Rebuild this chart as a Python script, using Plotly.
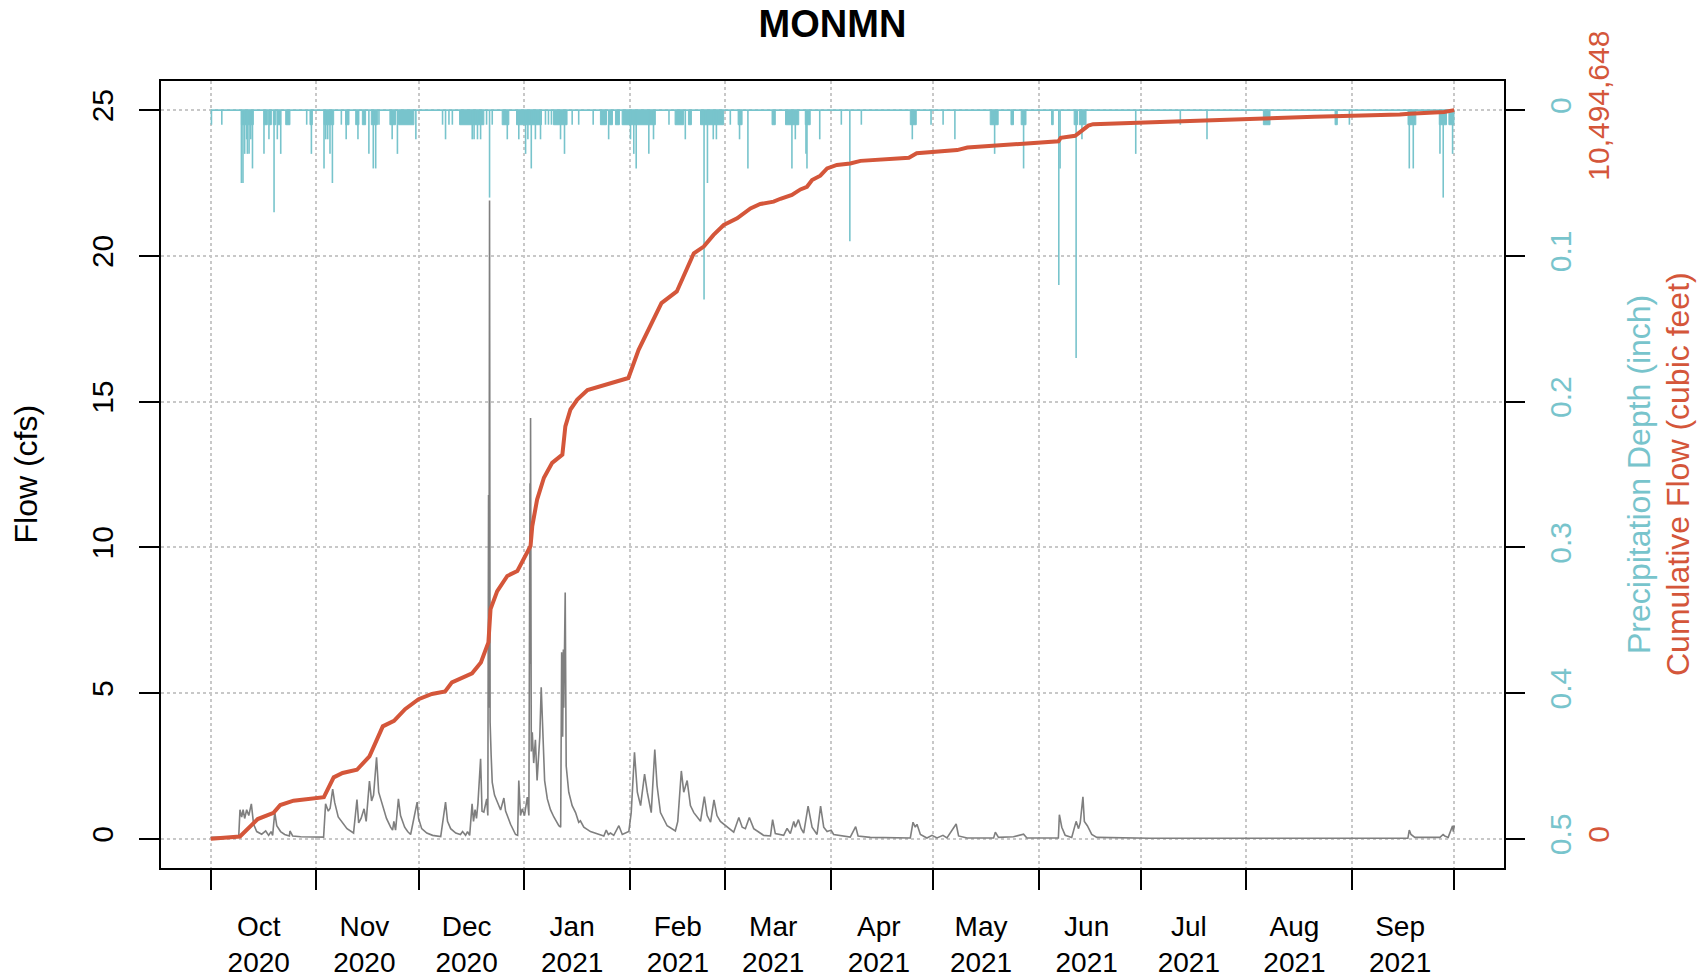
import plotly.graph_objects as go
import pandas as pd

# ---------------- data ----------------
flow_time = [
 "2020-10-01 00:00","2020-10-09 05:00","2020-10-09 14:00","2020-10-10 02:00","2020-10-10 12:00","2020-10-10 23:00",
 "2020-10-11 13:00","2020-10-12 04:00","2020-10-12 22:00","2020-10-13 14:00","2020-10-14 12:00","2020-10-15 23:00",
 "2020-10-17 03:00","2020-10-18 00:00","2020-10-18 17:00","2020-10-19 04:00","2020-10-19 19:00","2020-10-20 09:00",
 "2020-10-21 12:00","2020-10-22 17:00","2020-10-24 02:00","2020-10-24 06:00","2020-10-25 01:00","2020-10-27 10:00",
 "2020-11-03 03:00","2020-11-03 17:00","2020-11-04 12:00","2020-11-05 01:00","2020-11-05 19:00","2020-11-06 09:00",
 "2020-11-07 10:00","2020-11-08 17:00","2020-11-10 00:00","2020-11-11 22:00","2020-11-12 22:00","2020-11-13 10:00",
 "2020-11-14 03:00","2020-11-15 00:00","2020-11-15 15:00","2020-11-16 14:00","2020-11-17 05:00","2020-11-17 19:00",
 "2020-11-18 16:00","2020-11-19 07:00","2020-11-20 11:00","2020-11-21 14:00","2020-11-22 19:00","2020-11-23 09:00",
 "2020-11-23 18:00","2020-11-24 06:00","2020-11-25 02:00","2020-11-25 17:00","2020-11-26 22:00","2020-11-27 19:00",
 "2020-11-28 16:00","2020-11-30 14:00","2020-12-01 00:00","2020-12-01 22:00","2020-12-03 10:00","2020-12-05 03:00",
 "2020-12-07 12:00","2020-12-08 22:00","2020-12-09 12:00","2020-12-10 10:00","2020-12-11 22:00","2020-12-13 07:00",
 "2020-12-13 22:00","2020-12-14 19:00","2020-12-15 09:00","2020-12-16 00:00","2020-12-16 17:00","2020-12-17 03:00",
 "2020-12-17 14:00","2020-12-18 00:00","2020-12-18 10:00","2020-12-19 05:00","2020-12-19 15:00","2020-12-20 04:00",
 "2020-12-21 00:00","2020-12-21 08:00","2020-12-21 13:00","2020-12-21 16:00","2020-12-21 20:00","2020-12-22 00:00",
 "2020-12-22 07:00","2020-12-22 15:00","2020-12-23 07:00","2020-12-24 02:00","2020-12-25 02:00","2020-12-26 01:00",
 "2020-12-26 13:00","2020-12-27 01:00","2020-12-28 00:00","2020-12-29 11:00","2020-12-30 02:00","2020-12-30 10:00",
 "2020-12-30 22:00","2020-12-31 10:00","2021-01-01 02:00","2021-01-01 22:00","2021-01-02 09:00","2021-01-02 17:00",
 "2021-01-02 19:00","2021-01-02 21:00","2021-01-03 02:00","2021-01-03 09:00","2021-01-03 19:00","2021-01-04 07:00",
 "2021-01-04 19:00","2021-01-05 07:00","2021-01-05 14:00","2021-01-06 00:00","2021-01-06 14:00","2021-01-07 00:00",
 "2021-01-07 19:00","2021-01-08 17:00","2021-01-09 17:00","2021-01-11 04:00","2021-01-11 17:00","2021-01-12 00:00",
 "2021-01-12 07:00","2021-01-12 12:00","2021-01-12 15:00","2021-01-13 01:00","2021-01-13 08:00","2021-01-13 14:00",
 "2021-01-14 02:00","2021-01-15 02:00","2021-01-16 02:00","2021-01-17 00:00","2021-01-17 12:00","2021-01-18 12:00",
 "2021-01-20 11:00","2021-01-24 09:00","2021-01-25 02:00","2021-01-25 17:00","2021-01-26 08:00","2021-01-27 07:00",
 "2021-01-28 19:00","2021-01-29 19:00","2021-01-31 17:00","2021-02-01 10:00","2021-02-01 19:00","2021-02-02 09:00",
 "2021-02-03 05:00","2021-02-04 04:00","2021-02-05 08:00","2021-02-06 03:00","2021-02-07 07:00","2021-02-08 08:00",
 "2021-02-09 00:00","2021-02-10 00:00","2021-02-11 23:00","2021-02-14 09:00","2021-02-15 02:00","2021-02-16 03:00",
 "2021-02-16 20:00","2021-02-17 20:00","2021-02-18 19:00","2021-02-19 19:00","2021-02-21 18:00","2021-02-22 21:00",
 "2021-02-23 17:00","2021-02-24 17:00","2021-02-25 17:00","2021-02-26 14:00","2021-02-27 14:00","2021-03-01 14:00",
 "2021-03-03 12:00","2021-03-05 00:00","2021-03-06 00:00","2021-03-06 22:00","2021-03-08 02:00","2021-03-09 09:00",
 "2021-03-12 07:00","2021-03-14 07:00","2021-03-14 22:00","2021-03-15 17:00","2021-03-18 04:00","2021-03-19 04:00",
 "2021-03-20 03:00","2021-03-21 03:00","2021-03-21 14:00","2021-03-22 12:00","2021-03-23 07:00","2021-03-24 01:00",
 "2021-03-25 08:00","2021-03-26 12:00","2021-03-27 23:00","2021-03-29 00:00","2021-03-29 22:00","2021-03-30 22:00",
 "2021-04-01 02:00","2021-04-01 20:00","2021-04-04 19:00","2021-04-06 17:00","2021-04-08 07:00","2021-04-09 00:00",
 "2021-04-12 14:00","2021-04-18 12:00","2021-04-24 08:00","2021-04-25 03:00","2021-04-25 19:00","2021-04-26 07:00",
 "2021-04-27 07:00","2021-04-29 05:00","2021-04-30 17:00","2021-05-02 04:00","2021-05-03 22:00","2021-05-05 02:00",
 "2021-05-07 19:00","2021-05-08 12:00","2021-05-11 00:00","2021-05-18 19:00","2021-05-19 07:00","2021-05-20 05:00",
 "2021-05-24 15:00","2021-05-27 14:00","2021-05-28 13:00","2021-06-06 19:00","2021-06-07 02:00","2021-06-07 19:00",
 "2021-06-08 19:00","2021-06-10 17:00","2021-06-12 00:00","2021-06-12 17:00","2021-06-13 05:00","2021-06-14 00:00",
 "2021-06-14 10:00","2021-06-15 07:00","2021-06-16 14:00","2021-06-18 02:00","2021-07-03 17:00","2021-08-16 17:00",
 "2021-09-17 09:00","2021-09-17 19:00","2021-09-18 07:00","2021-09-19 10:00","2021-09-26 19:00","2021-09-27 17:00",
 "2021-09-28 05:00","2021-09-29 05:00","2021-09-30 12:00","2021-09-30 17:00","2021-09-30 23:45",
]
flow_cfs = [
 0.05,0.06,1.0,0.75,1.0,0.7,
 1.0,0.8,1.2,0.5,0.25,0.16,
 0.27,0.12,0.25,0.12,0.91,0.45,
 0.25,0.15,0.1,0.27,0.1,0.07,
 0.06,1.2,0.95,1.05,1.71,1.25,
 0.75,0.55,0.35,0.2,1.35,0.55,
 0.7,1.03,0.6,1.98,1.3,1.5,
 2.8,1.6,1.1,0.7,0.4,0.3,
 0.6,0.3,1.37,0.8,0.4,0.25,
 0.15,1.26,0.7,0.35,0.2,0.12,
 0.08,1.26,0.6,0.35,0.2,0.15,
 0.25,0.12,0.25,0.12,1.2,0.6,
 1.0,0.7,1.2,2.75,0.95,0.92,
 1.37,0.8,11.8,4.5,21.9,4.0,
 2.9,1.94,1.5,1.26,0.99,1.4,
 0.95,0.8,0.5,0.15,0.12,2.0,
 0.8,1.03,0.8,1.43,0.8,12.2,
 6.0,14.44,3.0,3.66,2.6,3.4,
 2.0,2.8,3.5,5.2,2.9,2.0,
 1.37,1.0,0.75,0.45,0.4,6.4,
 3.5,6.5,4.5,8.45,2.5,2.2,
 1.6,1.14,0.9,0.57,0.62,0.4,
 0.25,0.1,0.3,0.15,0.2,0.12,
 0.45,0.15,0.25,0.9,1.7,2.97,
 1.6,1.14,2.22,1.6,0.9,3.06,
 1.83,0.9,0.45,0.27,0.6,2.33,
 1.6,2.0,1.14,0.9,0.6,1.45,
 0.8,0.57,1.34,0.8,0.6,0.4,
 0.23,0.73,0.4,0.35,0.73,0.35,
 0.12,0.1,0.66,0.18,0.12,0.36,
 0.18,0.6,0.4,0.66,0.35,0.2,
 1.12,0.4,0.15,1.12,0.4,0.25,
 0.3,0.15,0.1,0.06,0.42,0.1,
 0.05,0.04,0.03,0.57,0.4,0.5,
 0.15,0.03,0.12,0.03,0.12,0.03,
 0.51,0.1,0.03,0.03,0.23,0.05,
 0.07,0.16,0.03,0.03,0.83,0.4,
 0.12,0.05,0.6,0.35,0.55,1.44,
 0.6,0.45,0.15,0.05,0.02,0.02,
 0.02,0.3,0.15,0.05,0.05,0.15,
 0.1,0.05,0.45,0.25,0.45,
]

cum_time = [
 "2020-10-01 00:00","2020-10-09 14:00","2020-10-14 19:00","2020-10-19 10:00","2020-10-21 10:00","2020-10-25 07:00",
 "2020-11-03 05:00","2020-11-06 02:00","2020-11-08 17:00","2020-11-12 22:00","2020-11-16 14:00","2020-11-20 12:00",
 "2020-11-23 19:00","2020-11-27 01:00","2020-12-01 00:00","2020-12-04 22:00","2020-12-08 19:00","2020-12-10 19:00",
 "2020-12-16 17:00","2020-12-19 07:00","2020-12-21 12:00","2020-12-21 20:00","2020-12-22 03:00","2020-12-24 02:00",
 "2020-12-27 01:00","2020-12-30 00:00","2021-01-01 10:00","2021-01-02 21:00","2021-01-03 09:00","2021-01-04 19:00",
 "2021-01-06 19:00","2021-01-09 05:00","2021-01-12 05:00","2021-01-13 02:00","2021-01-14 14:00","2021-01-16 14:00",
 "2021-01-19 14:00","2021-01-23 10:00","2021-01-31 14:00","2021-02-03 14:00","2021-02-07 10:00","2021-02-10 07:00",
 "2021-02-14 19:00","2021-02-17 07:00","2021-02-19 19:00","2021-02-22 17:00","2021-02-25 14:00","2021-02-28 14:00",
 "2021-03-04 12:00","2021-03-08 10:00","2021-03-11 07:00","2021-03-15 05:00","2021-03-17 05:00","2021-03-20 14:00",
 "2021-03-23 02:00","2021-03-25 00:00","2021-03-26 12:00","2021-03-28 22:00","2021-03-30 22:00","2021-04-02 19:00",
 "2021-04-06 17:00","2021-04-09 17:00","2021-04-22 22:00","2021-04-23 22:00","2021-04-26 05:00","2021-05-08 02:00",
 "2021-05-11 02:00","2021-05-23 02:00","2021-06-06 19:00","2021-06-07 12:00","2021-06-11 17:00","2021-06-13 17:00",
 "2021-06-15 14:00","2021-06-17 00:00","2021-06-29 07:00","2021-07-21 22:00","2021-08-06 22:00","2021-08-20 22:00",
 "2021-09-15 00:00","2021-09-17 19:00","2021-09-28 00:00","2021-09-30 23:45",
]
cum_ft3 = [
 0, 33583, 285454, 373609, 486952, 549920,
 600294, 885748, 948716, 994893, 1187994, 1620374,
 1700133, 1868047, 2010775, 2086336, 2124117, 2254250,
 2384384, 2539705, 2829357, 3114812, 3307913, 3568180,
 3786469, 3857832, 4071923, 4218848, 4504303, 4886308,
 5201148, 5415238, 5532778, 5939970, 6183446, 6326174,
 6464703, 6515077, 6636815, 7044007, 7426013, 7715665,
 7883579, 8143846, 8433499, 8530050, 8697964, 8840691,
 8937241, 9079969, 9142937, 9176520, 9218498, 9273070,
 9352830, 9390611, 9487161, 9550129, 9655076, 9705450,
 9726439, 9764220, 9802001, 9810397, 9873364, 9919541,
 9957322, 9999300, 10045477, 10095851, 10125236, 10200797,
 10272161, 10293150, 10314140, 10351921, 10372910, 10398097,
 10431680, 10444274, 10469461, 10494648,
]

# sustained tipping-bucket readings (start, end, depth in inch)
run_start = [
 "2020-10-10 00:00","2020-10-16 15:00","2020-10-18 02:00","2020-10-19 09:00","2020-10-20 13:00","2020-10-23 00:00",
 "2020-10-30 03:00","2020-11-03 06:00","2020-11-09 14:00","2020-11-12 13:00","2020-11-14 12:00","2020-11-17 03:00",
 "2020-11-22 14:00","2020-11-25 03:00","2020-12-13 01:00","2020-12-25 13:00","2020-12-29 18:00","2021-01-09 14:00",
 "2021-01-23 09:00","2021-01-26 01:00","2021-01-27 19:00","2021-01-29 18:00","2021-02-14 07:00","2021-02-18 05:00",
 "2021-02-21 18:00","2021-03-04 19:00","2021-03-14 18:00","2021-03-18 17:00","2021-03-24 12:00","2021-04-24 08:00",
 "2021-05-17 19:00","2021-05-23 21:00","2021-05-26 21:00","2021-06-04 19:00","2021-06-11 10:00","2021-06-12 23:00",
 "2021-08-05 23:00","2021-08-27 00:00","2021-09-17 10:00","2021-09-26 14:00","2021-09-29 10:00",
]
run_end = [
 "2020-10-13 12:00","2020-10-17 15:00","2020-10-18 19:00","2020-10-20 02:00","2020-10-21 13:00","2020-10-24 06:00",
 "2020-10-30 20:00","2020-11-06 02:00","2020-11-10 14:00","2020-11-13 12:00","2020-11-15 11:00","2020-11-18 22:00",
 "2020-11-24 06:00","2020-11-29 15:00","2020-12-20 04:00","2020-12-27 12:00","2021-01-06 02:00","2021-01-13 14:00",
 "2021-01-25 04:00","2021-01-26 22:00","2021-01-28 23:00","2021-02-08 12:00","2021-02-16 19:00","2021-02-19 02:00",
 "2021-02-28 13:00","2021-03-05 23:00","2021-03-15 17:00","2021-03-22 14:00","2021-03-25 23:00","2021-04-26 02:00",
 "2021-05-20 03:00","2021-05-24 15:00","2021-05-28 07:00","2021-06-05 07:00","2021-06-12 10:00","2021-06-14 22:00",
 "2021-08-07 22:00","2021-08-27 16:00","2021-09-19 17:00","2021-09-28 17:00","2021-09-30 22:00",
]
run_depth = [0.01] * 41

# individual larger readings (time, depth in inch)
precip_time = [
 "2020-10-01 05:00","2020-10-04 06:00","2020-10-10 00:00","2020-10-10 11:00","2020-10-10 23:00","2020-10-11 13:00",
 "2020-10-11 18:00","2020-10-12 06:00","2020-10-12 18:00","2020-10-13 06:00","2020-10-16 15:00","2020-10-18 02:00",
 "2020-10-19 14:00","2020-10-20 13:00","2020-10-21 13:00","2020-10-29 04:00","2020-10-30 13:00","2020-11-03 06:00",
 "2020-11-03 18:00","2020-11-04 08:00","2020-11-05 00:00","2020-11-05 17:00","2020-11-08 08:00","2020-11-09 18:00",
 "2020-11-13 05:00","2020-11-16 10:00","2020-11-17 17:00","2020-11-18 10:00","2020-11-19 09:00","2020-11-23 06:00",
 "2020-11-24 19:00","2020-11-30 05:00","2020-12-08 01:00","2020-12-08 22:00","2020-12-09 22:00","2020-12-10 22:00",
 "2020-12-16 18:00","2020-12-17 07:00","2020-12-18 07:00","2020-12-19 05:00","2020-12-20 23:00","2020-12-21 20:00",
 "2020-12-22 15:00","2020-12-27 01:00","2020-12-30 10:00","2021-01-01 10:00","2021-01-02 02:00","2021-01-03 02:00",
 "2021-01-04 07:00","2021-01-05 19:00","2021-01-07 06:00","2021-01-08 03:00","2021-01-09 00:00","2021-01-11 16:00",
 "2021-01-12 20:00","2021-01-15 02:00","2021-01-17 00:00","2021-01-21 06:00","2021-01-25 19:00","2021-02-01 05:00",
 "2021-02-02 04:00","2021-02-02 21:00","2021-02-06 14:00","2021-02-07 23:00","2021-02-12 12:00","2021-02-17 07:00",
 "2021-02-22 19:00","2021-02-23 19:00","2021-02-25 12:00","2021-02-26 10:00","2021-03-02 12:00","2021-03-05 05:00",
 "2021-03-07 16:00","2021-03-20 14:00","2021-03-21 14:00","2021-03-24 17:00","2021-03-25 00:00","2021-03-28 18:00",
 "2021-04-04 02:00","2021-04-06 14:00","2021-04-09 23:00","2021-04-24 22:00","2021-04-30 10:00","2021-05-03 23:00",
 "2021-05-07 10:00","2021-05-19 02:00","2021-05-27 14:00","2021-06-06 22:00","2021-06-07 07:00","2021-06-12 00:00",
 "2021-06-13 17:00","2021-06-29 12:00","2021-07-12 14:00","2021-07-20 10:00","2021-08-31 05:00","2021-09-17 19:00",
 "2021-09-18 23:00","2021-09-26 19:00","2021-09-27 18:00","2021-09-30 12:00",
]
precip_in = [
 0.01,0.01,0.05,0.05,0.03,0.02,
 0.03,0.03,0.02,0.04,0.03,0.02,
 0.07,0.02,0.03,0.01,0.03,0.04,
 0.02,0.02,0.03,0.05,0.01,0.02,
 0.02,0.03,0.04,0.04,0.01,0.02,
 0.03,0.02,0.01,0.02,0.01,0.01,
 0.02,0.02,0.02,0.02,0.01,0.06,
 0.01,0.02,0.02,0.03,0.02,0.04,
 0.02,0.02,0.01,0.01,0.01,0.02,
 0.03,0.01,0.01,0.01,0.02,0.02,
 0.03,0.04,0.03,0.02,0.01,0.02,
 0.13,0.05,0.02,0.02,0.01,0.02,
 0.04,0.04,0.02,0.03,0.04,0.02,
 0.01,0.09,0.01,0.02,0.01,0.01,
 0.02,0.03,0.04,0.12,0.04,0.17,
 0.02,0.03,0.01,0.02,0.01,0.04,
 0.04,0.03,0.06,0.03,
]

month_ticks = ["2020-10-01","2020-11-01","2020-12-01","2021-01-01","2021-02-01","2021-03-01","2021-04-01",
               "2021-05-01","2021-06-01","2021-07-01","2021-08-01","2021-09-01","2021-10-01"]
month_labels = ["Oct<br>2020","Nov<br>2020","Dec<br>2020","Jan<br>2021","Feb<br>2021","Mar<br>2021",
                "Apr<br>2021","May<br>2021","Jun<br>2021","Jul<br>2021","Aug<br>2021","Sep<br>2021",""]
flow_ticks = [0, 5, 10, 15, 20, 25]
precip_ticks = [0, 0.1, 0.2, 0.3, 0.4, 0.5]
precip_ticktext = ["0", "0.1", "0.2", "0.3", "0.4", "0.5"]

# ---------------- styles ----------------
CYAN = "#78C4CC"
RED = "#D4563A"
GRAY = "#7F7F7F"
GRID = "#C8C8C8"
FONT = "Liberation Sans, Arial, sans-serif"
W, H = 1705, 979
OFF = 8                      # page body margin: figure is drawn 8 px in from the window corner
ML, MT = 161 - OFF, 81 - OFF
PLOT_R = 1504 - OFF
PLOT_B = 868 - OFF
MB = H - PLOT_B
PAPER_W = W - ML
DOM = (PLOT_R - ML) / PAPER_W


def px(xpage):
    return (xpage - OFF - ML) / PAPER_W


# ---------------- scales ----------------
t0 = pd.Timestamp(flow_time[0]); t1 = pd.Timestamp(flow_time[-1])
xpad = (t1 - t0) * 0.04
xrange = [t0 - xpad, t1 + xpad]
ytop = flow_ticks[-1]
ypad = 0.04 * ytop
yrange = [-ypad, ytop + ypad]
pmax = precip_ticks[-1]
y2range = [pmax * (ytop - yrange[0]) / ytop, pmax * (ytop - yrange[1]) / ytop]
ctot = cum_ft3[-1]
y3range = [ctot * yrange[0] / ytop, ctot * yrange[1] / ytop]

# precipitation geometry
rx, ry = [], []
for s, e, d in zip(run_start, run_end, run_depth):
    rx += [s, s, e, e, s, None]
    ry += [0, d, d, 0, 0, None]
sx, sy = [flow_time[0], flow_time[-1], None], [0, 0, None]
for t, d in zip(precip_time, precip_in):
    sx += [t, t, None]
    sy += [0, d, None]

fig = go.Figure()
fig.add_trace(go.Scatter(x=flow_time, y=flow_cfs, mode="lines", line=dict(color=GRAY, width=1.6),
                         yaxis="y", hoverinfo="skip"))
fig.add_trace(go.Scatter(x=rx, y=ry, mode="lines", fill="toself", fillcolor=CYAN,
                         line=dict(color=CYAN, width=1), yaxis="y2", hoverinfo="skip"))
fig.add_trace(go.Scatter(x=sx, y=sy, mode="lines", line=dict(color=CYAN, width=1.6),
                         yaxis="y2", hoverinfo="skip"))
fig.add_trace(go.Scatter(x=cum_time, y=cum_ft3, mode="lines", line=dict(color=RED, width=4),
                         yaxis="y3", hoverinfo="skip"))

px_per_day = (PLOT_R - ML) / ((xrange[1] - xrange[0]) / pd.Timedelta(days=1))

fig.update_layout(
    width=W, height=H, template="none",
    paper_bgcolor="white", plot_bgcolor="white",
    margin=dict(l=ML, r=0, t=MT, b=MB, pad=0),
    font=dict(family=FONT, color="black"),
    showlegend=False,
    title=dict(text="<b>MONMN</b>", x=((ML + PLOT_R) / 2) / W, xref="container", xanchor="center",
               y=1 - (24 - OFF) / H, yref="container", yanchor="middle", font=dict(size=38, family=FONT)),
    xaxis=dict(type="date", domain=[0, DOM], range=xrange, tickvals=month_ticks, ticktext=month_labels,
               ticks="outside", ticklen=20, tickwidth=2, tickcolor="black",
               ticklabelshift=int(round(14 * px_per_day)), ticklabelstandoff=12, tickfont=dict(size=28),
               showgrid=True, gridcolor=GRID, griddash="dot", gridwidth=1.5,
               showline=True, linecolor="black", linewidth=2, mirror=True, zeroline=False, automargin=False),
    yaxis=dict(range=yrange, tickvals=flow_ticks, ticks="outside", ticklen=20, tickwidth=2, tickcolor="black",
               tickangle=-90, tickfont=dict(size=30), ticklabelstandoff=14,
               showgrid=True, gridcolor=GRID, griddash="dot", gridwidth=1.5,
               showline=True, linecolor="black", linewidth=2, mirror=True, zeroline=False, automargin=False),
    yaxis2=dict(overlaying="y", side="right", anchor="x", range=y2range, tickvals=precip_ticks,
                ticktext=precip_ticktext, ticks="outside", ticklen=20, tickwidth=2, tickcolor="black",
                tickangle=-90, tickfont=dict(size=30, color=CYAN), ticklabelstandoff=10,
                showgrid=False, zeroline=False, showline=False, automargin=False),
    yaxis3=dict(overlaying="y", side="right", anchor="free", position=px(1570),
                range=y3range, tickvals=[0, ctot], ticktext=["0", f"{ctot:,}"], ticks="",
                tickangle=-90, tickfont=dict(size=30, color=RED), ticklabelstandoff=8,
                showgrid=False, zeroline=False, showline=False, automargin=False),
    annotations=[
        dict(text="Flow (cfs)", x=px(25), y=0.5, xref="paper", yref="paper", textangle=-90,
             showarrow=False, xanchor="center", yanchor="middle", font=dict(size=32)),
        dict(text="Precipitation Depth (inch)", x=px(1638.5), y=0.5, xref="paper", yref="paper",
             textangle=-90, showarrow=False, xanchor="center", yanchor="middle", font=dict(size=32, color=CYAN)),
        dict(text="Cumulative Flow (cubic feet)", x=px(1677.5), y=0.5, xref="paper", yref="paper",
             textangle=-90, showarrow=False, xanchor="center", yanchor="middle", font=dict(size=32, color=RED)),
    ],
)

fig.write_html("out.html")
